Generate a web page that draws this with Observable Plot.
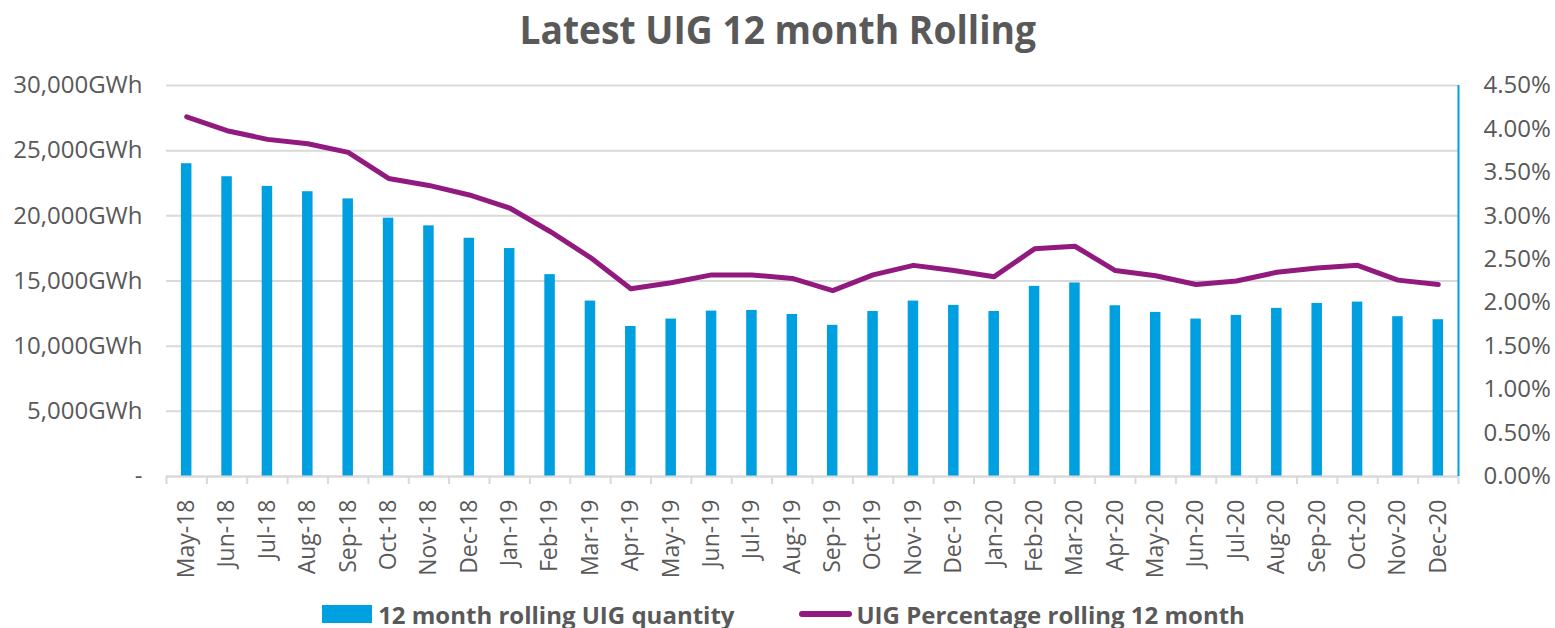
<!DOCTYPE html>
<html>
<head>
<meta charset="utf-8">
<script src="https://cdn.jsdelivr.net/npm/d3@7"></script>
<script src="https://cdn.jsdelivr.net/npm/@observablehq/plot@0.6"></script>
<style>
  html, body { margin: 0; padding: 0; background: #fff; }
  body { width: 1555px; height: 628px; overflow: hidden; font-family: "Open Sans", sans-serif; color: #595959; }
  #title { height: 60px; line-height: 58px; font-size: 40px; font-weight: 700; text-align: center; white-space: nowrap; }
  #title span { display: inline-block; transform: scaleX(0.93); transform-origin: 50% 50%; }
  #chart { height: 540px; }
  #legend { height: 28px; display: flex; justify-content: center; align-items: center; font-size: 24px; font-weight: 700; white-space: nowrap; padding-left: 12px; }
  .sw-bar { display: inline-block; width: 50px; height: 18px; background: #009FE0; margin-right: 6px; }
  .sw-line { display: inline-block; width: 53px; height: 6px; border-radius: 3px; background: #921A7F; margin-left: 65px; margin-right: 4px; }
</style>
</head>
<body>
<div id="title"><span>Latest UIG 12 month Rolling</span></div>
<div id="chart"></div>
<div id="legend"><span class="sw-bar"></span><span>12 month rolling UIG quantity</span><span class="sw-line"></span><span>UIG Percentage rolling 12 month</span></div>
<script>
const months = ["May-18","Jun-18","Jul-18","Aug-18","Sep-18","Oct-18","Nov-18","Dec-18","Jan-19","Feb-19","Mar-19","Apr-19","May-19","Jun-19","Jul-19","Aug-19","Sep-19","Oct-19","Nov-19","Dec-19","Jan-20","Feb-20","Mar-20","Apr-20","May-20","Jun-20","Jul-20","Aug-20","Sep-20","Oct-20","Nov-20","Dec-20"];
const uigGWh = [24000,23000,22260,21850,21300,19820,19230,18280,17490,15490,13460,11510,12080,12690,12740,12430,11600,12660,13460,13130,12660,14590,14850,13100,12590,12080,12360,12900,13280,13380,12260,12030];
const uigPct = [4.14,3.98,3.88,3.83,3.73,3.43,3.35,3.24,3.09,2.82,2.52,2.16,2.23,2.32,2.32,2.28,2.14,2.32,2.43,2.37,2.30,2.62,2.65,2.37,2.31,2.21,2.25,2.35,2.40,2.43,2.26,2.21];
const leftTicks = [0,5000,10000,15000,20000,25000,30000];
const rightTicks = [0,0.5,1,1.5,2,2.5,3,3.5,4,4.5];
const leftMax = 30000;
const rightMax = 4.5;

const data = months.map((m, i) => ({month: m, gwh: uigGWh[i], pct: uigPct[i]}));
const toLeft = p => p * leftMax / rightMax;
const W = 1555, H = 540, mL = 166, mR = 97, mT = 25, mB = 124;
const step = (W - mL - mR) / months.length;
const blue = "#009FE0", purple = "#921A7F", grid = "#D9D9D9", text = "#595959";

const chart = Plot.plot({
  width: W, height: H,
  marginLeft: mL, marginRight: mR, marginTop: mT, marginBottom: mB,
  style: {fontFamily: "Open Sans", fontSize: "24px", color: text, background: "#fff"},
  x: {domain: months, paddingInner: 0.74, paddingOuter: 0.37, round: false, axis: null},
  y: {domain: [0, leftMax], axis: null},
  marks: [
    Plot.gridY(leftTicks, {stroke: grid, strokeOpacity: 1, strokeWidth: 2}),
    Plot.barY(data, {x: "month", y: "gwh", fill: blue}),
    Plot.lineY(data, {x: "month", y: d => toLeft(d.pct), stroke: purple, strokeWidth: 5, strokeLinecap: "round", strokeLinejoin: "round"}),
    Plot.ruleY([0], {stroke: grid, strokeWidth: 2}),
    Plot.axisX(months, {anchor: "bottom", tickSize: 8, fill: "none", stroke: grid, strokeWidth: 2, dx: -step / 2, label: null}),
    Plot.axisX([months[months.length - 1]], {anchor: "bottom", tickSize: 8, fill: "none", stroke: grid, strokeWidth: 2, dx: step / 2, label: null}),
    Plot.axisX({anchor: "bottom", tickSize: 0, tickPadding: 23, tickRotate: -90, fontSize: 23, fill: text, label: null}),
    Plot.ruleX([months[months.length - 1]], {y1: 0, y2: leftMax, dx: step / 2, stroke: blue, strokeWidth: 2}),
    Plot.axisY(leftTicks, {anchor: "left", tickSize: 0, tickPadding: 24, fill: text, label: null,
      tickFormat: d => d === 0 ? "-" : d3.format(",")(d) + "GWh"}),
    Plot.axisY(rightTicks.map(toLeft), {anchor: "right", tickSize: 0, tickPadding: 25, fill: text, label: null,
      tickFormat: d => (d / leftMax * rightMax).toFixed(2) + "%"})
  ]
});
document.getElementById("chart").appendChild(chart);
</script>
</body>
</html>
